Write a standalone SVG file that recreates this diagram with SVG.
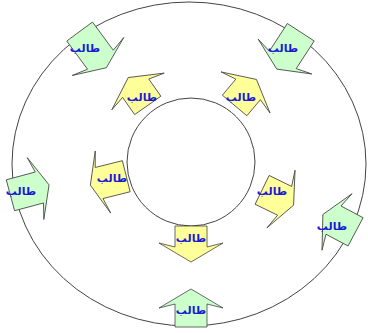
<svg xmlns="http://www.w3.org/2000/svg" width="368" height="333" viewBox="0 0 368 333">
<style>
.ring{fill:none;stroke:#444;stroke-width:1}
.y{fill:#ffff99;stroke:#444;stroke-width:0.8;stroke-linejoin:miter}
.g{fill:#ccffcc;stroke:#444;stroke-width:0.8;stroke-linejoin:miter}
.t{font-family:"DejaVu Sans",sans-serif;font-size:11px;font-weight:bold;fill:#1a1ad6;text-anchor:middle}
</style>
<rect width="368" height="333" fill="#ffffff"/>
<g id="rings">
<ellipse class="ring" cx="189" cy="164" rx="177" ry="162"/>
<circle class="ring" cx="191" cy="162" r="64"/>
</g>
<g id="connectors"></g>
<g id="y-bottom">
<path class="y" transform="translate(191,247) rotate(180)" d="M-16,21 L-16,0 L-32,4 L0,-15 L32,4 L16,0 L16,21 Z"/>
<text class="t" x="191" y="242">طالب</text>
</g>
<g id="y-upper-left">
<path class="y" transform="translate(135.7,88.2) rotate(-35)" d="M-16,21 L-16,0 L-32,4 L0,-13 L32,4 L16,0 L16,21 Z"/>
<text class="t" x="142" y="101">طالب</text>
</g>
<g id="y-upper-right">
<path class="y" transform="translate(248.1,89.4) rotate(40)" d="M-16,21 L-16,0 L-32,4 L0,-13 L32,4 L16,0 L16,21 Z"/>
<text class="t" x="241" y="101">طالب</text>
</g>
<g id="y-left">
<path class="y" transform="translate(99.1,183) rotate(-104)" d="M-16,28 L-16,0 L-32,4 L0,-9 L32,4 L16,0 L16,28 Z"/>
<text class="t" x="112" y="182">طالب</text>
</g>
<g id="y-right">
<path class="y" transform="translate(284.6,200.8) rotate(116)" d="M-16,25 L-16,0 L-32,4 L0,-10 L32,4 L16,0 L16,25 Z"/>
<text class="t" x="272" y="195">طالب</text>
</g>
<g id="g-bottom">
<path class="g" transform="translate(191,304)" d="M-16,23 L-16,0 L-32,4 L0,-15 L32,4 L16,0 L16,23 Z"/>
<text class="t" x="191" y="314">طالب</text>
</g>
<g id="g-upper-left">
<path class="g" transform="translate(100.4,59.7) rotate(143.6)" d="M-16,35 L-16,0 L-32,4 L0,-10 L32,4 L16,0 L16,35 Z"/>
<text class="t" x="85" y="52">طالب</text>
</g>
<g id="g-upper-right">
<path class="g" transform="translate(282.8,59.9) rotate(213)" d="M-16,33 L-16,0 L-32,4 L0,-11 L32,4 L16,0 L16,33 Z"/>
<text class="t" x="283" y="52">طالب</text>
</g>
<g id="g-left">
<path class="g" transform="translate(39.4,187.5) rotate(75)" d="M-16,30 L-16,0 L-32,4 L0,-10 L32,4 L16,0 L16,30 Z"/>
<text class="t" x="21" y="195">طالب</text>
</g>
<g id="g-right">
<path class="g" transform="translate(333.5,220.1) rotate(-62)" d="M-16,25 L-16,0 L-32,4 L0,-12 L32,4 L16,0 L16,25 Z"/>
<text class="t" x="332" y="230">طالب</text>
</g>
</svg>
